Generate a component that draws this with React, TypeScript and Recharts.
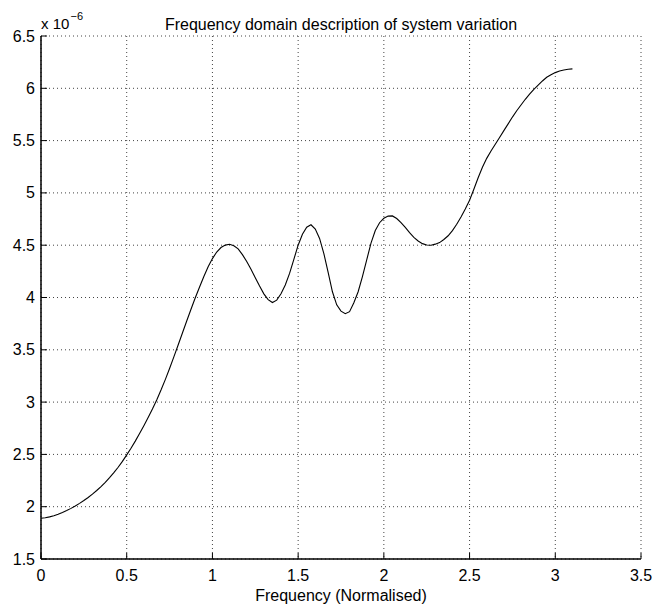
import React from 'react';
import { LineChart, Line, XAxis, YAxis, CartesianGrid } from 'recharts';

const freq = [
  0.0, 0.025, 0.05, 0.075, 0.1, 0.125, 0.15, 0.175, 0.2, 0.225,
  0.25, 0.275, 0.3, 0.325, 0.35, 0.375, 0.4, 0.425, 0.45, 0.475,
  0.5, 0.525, 0.55, 0.575, 0.6, 0.625, 0.65, 0.675, 0.7, 0.725,
  0.75, 0.775, 0.8, 0.825, 0.85, 0.875, 0.9, 0.925, 0.95, 0.975,
  1.0, 1.025, 1.05, 1.075, 1.1, 1.125, 1.15, 1.175, 1.2, 1.225,
  1.25, 1.275, 1.3, 1.325, 1.35, 1.375, 1.4, 1.425, 1.45, 1.475,
  1.5, 1.525, 1.55, 1.575, 1.6, 1.625, 1.65, 1.675, 1.7, 1.725,
  1.75, 1.775, 1.8, 1.825, 1.85, 1.875, 1.9, 1.925, 1.95, 1.975,
  2.0, 2.025, 2.05, 2.075, 2.1, 2.125, 2.15, 2.175, 2.2, 2.225,
  2.25, 2.275, 2.3, 2.325, 2.35, 2.375, 2.4, 2.425, 2.45, 2.475,
  2.5, 2.525, 2.55, 2.575, 2.6, 2.625, 2.65, 2.675, 2.7, 2.725,
  2.75, 2.775, 2.8, 2.825, 2.85, 2.875, 2.9, 2.925, 2.95, 2.975,
  3.0, 3.025, 3.05, 3.075, 3.1,
];

const variation = [
  1.889, 1.895, 1.903, 1.914, 1.927, 1.944, 1.963, 1.984, 2.007, 2.032,
  2.059, 2.088, 2.12, 2.155, 2.192, 2.233, 2.277, 2.325, 2.377, 2.433,
  2.495, 2.559, 2.627, 2.699, 2.774, 2.852, 2.934, 3.021, 3.115, 3.215,
  3.321, 3.432, 3.546, 3.661, 3.775, 3.888, 3.997, 4.1, 4.2, 4.293,
  4.372, 4.435, 4.478, 4.501, 4.509, 4.495, 4.465, 4.41, 4.345, 4.27,
  4.19, 4.11, 4.035, 3.98, 3.952, 3.975, 4.035, 4.12, 4.23, 4.365,
  4.5, 4.605, 4.672, 4.695, 4.655, 4.565, 4.42, 4.24, 4.055, 3.93,
  3.87, 3.845, 3.865, 3.95, 4.055, 4.2, 4.36, 4.52, 4.64, 4.715,
  4.757, 4.778, 4.78, 4.755, 4.715, 4.67, 4.62, 4.575, 4.54, 4.515,
  4.502, 4.499, 4.51, 4.525, 4.555, 4.59, 4.64, 4.7, 4.77, 4.845,
  4.93, 5.035, 5.145, 5.245, 5.33, 5.4, 5.465, 5.53, 5.595, 5.66,
  5.725, 5.785, 5.84, 5.895, 5.945, 5.99, 6.03, 6.07, 6.105, 6.13,
  6.15, 6.165, 6.175, 6.182, 6.186,
];

const xTicks = [0, 0.5, 1, 1.5, 2, 2.5, 3, 3.5];
const yTicks = [1.5, 2, 2.5, 3, 3.5, 4, 4.5, 5, 5.5, 6, 6.5];

const titleText = 'Frequency domain description of system variation';
const xLabelText = 'Frequency (Normalised)';
const expBase = 'x 10';
const expPower = '\u22126';

const data = freq.map((f, i) => ({ f, v: variation[i] }));

const FONT = '"Liberation Sans", Arial, Helvetica, sans-serif';
const TL = 6;

const BottomTick = (props: any) => {
  const { x, y, payload } = props;
  return (
    <g>
      <line x1={x} y1={y} x2={x} y2={y - TL} stroke="#000" strokeWidth={1} />
      <text x={x} y={y + 22} textAnchor="middle" fontSize={16} fontFamily={FONT} fill="#000">
        {String(payload.value)}
      </text>
    </g>
  );
};

const LeftTick = (props: any) => {
  const { x, y, payload } = props;
  return (
    <g>
      <line x1={x} y1={y} x2={x + TL} y2={y} stroke="#000" strokeWidth={1} />
      <text x={x - 6} y={y + 5.5} textAnchor="end" fontSize={16} fontFamily={FONT} fill="#000">
        {String(payload.value)}
      </text>
    </g>
  );
};

const TopTick = (props: any) => {
  const { x, y } = props;
  return <line x1={x} y1={y} x2={x} y2={y + TL} stroke="#000" strokeWidth={1} />;
};

const RightTick = (props: any) => {
  const { x, y } = props;
  return <line x1={x} y1={y} x2={x - TL} y2={y} stroke="#000" strokeWidth={1} />;
};

export default function App() {
  return (
    <div style={{ position: 'absolute', left: 0, top: 0, width: 665, height: 605, background: '#fff' }}>
      <LineChart
        width={665}
        height={605}
        data={data}
        margin={{ top: 36, right: 24, bottom: 0, left: 0 }}
      >
        <CartesianGrid
          xAxisId="b"
          yAxisId="l"
          stroke="#444"
          strokeDasharray="1 3"
          strokeWidth={1}
        />
        <XAxis
          xAxisId="b"
          dataKey="f"
          type="number"
          domain={[0, 3.5]}
          ticks={xTicks}
          interval={0}
          height={46}
          orientation="bottom"
          axisLine={{ stroke: '#000', strokeWidth: 1.5 }}
          tickLine={false}
          tickSize={0}
          tickMargin={0}
          tick={<BottomTick />}
          allowDataOverflow
        />
        <XAxis
          xAxisId="t"
          dataKey="f"
          type="number"
          domain={[0, 3.5]}
          ticks={xTicks}
          interval={0}
          height={0}
          orientation="top"
          axisLine={{ stroke: '#000', strokeWidth: 1.5 }}
          tickLine={false}
          tickSize={0}
          tickMargin={0}
          tick={<TopTick />}
          allowDataOverflow
        />
        <YAxis
          yAxisId="l"
          type="number"
          domain={[1.5, 6.5]}
          ticks={yTicks}
          interval={0}
          width={41}
          orientation="left"
          axisLine={{ stroke: '#000', strokeWidth: 1.5 }}
          tickLine={false}
          tickSize={0}
          tickMargin={0}
          tick={<LeftTick />}
          allowDataOverflow
        />
        <YAxis
          yAxisId="r"
          type="number"
          domain={[1.5, 6.5]}
          ticks={yTicks}
          interval={0}
          width={0}
          orientation="right"
          axisLine={{ stroke: '#000', strokeWidth: 1.5 }}
          tickLine={false}
          tickSize={0}
          tickMargin={0}
          tick={<RightTick />}
          allowDataOverflow
        />
        <Line
          xAxisId="b"
          yAxisId="l"
          type="linear"
          dataKey="v"
          stroke="#000"
          strokeWidth={1.1}
          dot={false}
          activeDot={false}
          isAnimationActive={false}
        />
      </LineChart>
      <svg
        width={665}
        height={605}
        style={{ position: 'absolute', left: 0, top: 0, pointerEvents: 'none' }}
      >
        <text x={341} y={30} textAnchor="middle" fontSize={16} fontFamily={FONT} fill="#000">
          {titleText}
        </text>
        <text x={341} y={601} textAnchor="middle" fontSize={16} fontFamily={FONT} fill="#000">
          {xLabelText}
        </text>
        <text x={41} y={29} fontSize={15} fontFamily={FONT} fill="#000">
          {expBase}
        </text>
        <text x={70.5} y={20} fontSize={11} fontFamily={FONT} fill="#000">
          {expPower}
        </text>
      </svg>
    </div>
  );
}
